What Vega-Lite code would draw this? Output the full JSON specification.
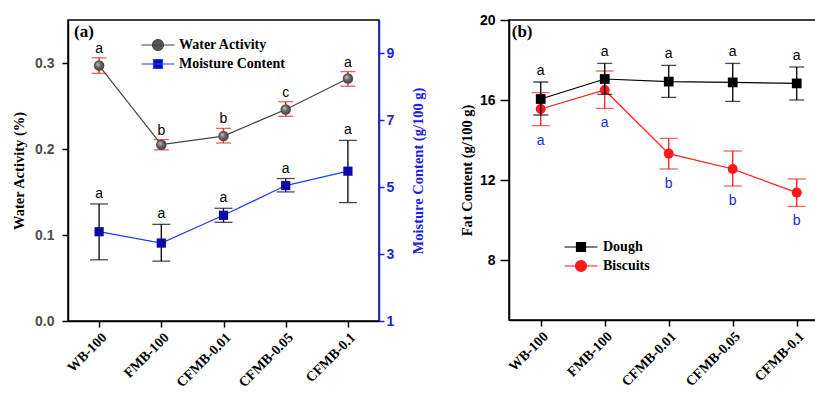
{
  "$schema": "https://vega.github.io/schema/vega-lite/v6.json",
  "padding": {"left": 10, "top": 12, "right": 0, "bottom": 0},
  "spacing": 31,
  "config": {
    "view": {"stroke": "black", "strokeWidth": 1.5},
    "axis": {"grid": false, "domainWidth": 1.5, "tickWidth": 1.5, "domainColor": "black", "tickColor": "black"}
  },
  "resolve": {"scale": {"color": "independent"}, "legend": {"color": "independent"}},
  "hconcat": [
    {
      "width": 311,
      "height": 301,
      "data": {"values": [
        {"cat": "WB-100", "wa": 0.297, "wa_lo": 0.288, "wa_hi": 0.306, "wa_sig": "a", "mc": 3.67, "mc_lo": 2.83, "mc_hi": 4.50, "mc_sig": "a"},
        {"cat": "FMB-100", "wa": 0.205, "wa_lo": 0.199, "wa_hi": 0.211, "wa_sig": "b", "mc": 3.33, "mc_lo": 2.79, "mc_hi": 3.89, "mc_sig": "a"},
        {"cat": "CFMB-0.01", "wa": 0.215, "wa_lo": 0.207, "wa_hi": 0.224, "wa_sig": "b", "mc": 4.16, "mc_lo": 3.95, "mc_hi": 4.37, "mc_sig": "a"},
        {"cat": "CFMB-0.05", "wa": 0.246, "wa_lo": 0.238, "wa_hi": 0.255, "wa_sig": "c", "mc": 5.05, "mc_lo": 4.86, "mc_hi": 5.26, "mc_sig": "a"},
        {"cat": "CFMB-0.1", "wa": 0.282, "wa_lo": 0.273, "wa_hi": 0.290, "wa_sig": "a", "mc": 5.48, "mc_lo": 4.54, "mc_hi": 6.40, "mc_sig": "a"}
      ]},
      "encoding": {
        "x": {"field": "cat", "type": "nominal", "sort": null,
          "scale": {"type": "point", "padding": 0.5},
          "axis": {"title": null, "labelAngle": -45, "labelFont": "Liberation Serif", "labelFontSize": 14, "labelFontWeight": "bold", "labelColor": "black", "tickSize": 6, "labelPadding": 3}}
      },
      "layer": [
        {
          "layer": [
            {
              "mark": {"type": "line", "strokeWidth": 1.2},
              "encoding": {
                "y": {"field": "wa", "type": "quantitative", "title": "Water Activity (%)",
                  "scale": {"domain": [0, 0.35], "nice": false, "zero": false},
                  "axis": {"values": [0, 0.1, 0.2, 0.3], "format": ".1f", "labelFont": "Liberation Sans", "labelFontSize": 14, "labelFontWeight": "bold", "labelColor": "#4d4d4d", "labelPadding": 8, "tickSize": 6, "titleFont": "Liberation Serif", "titleFontSize": 14.5, "titleFontWeight": "bold", "titleColor": "black", "titlePadding": 8}},
                "color": {"datum": "Water Activity",
                  "scale": {"domain": ["Water Activity", "Moisture Content"], "range": ["#444444", "#1f3fff"]},
                  "legend": {"orient": "none", "legendX": 83, "legendY": 18, "title": null, "padding": 0, "labelFont": "Liberation Serif", "labelFontSize": 14, "labelFontWeight": "bold", "labelColor": "black", "labelOffset": 14, "rowPadding": 4, "symbolSize": 100,
                    "encode": {"symbols": {"update": {
                      "shape": {"signal": "datum.value === 'Water Activity' ? 'M-3.3,0H3.3M1.1,0A1.1,1.1 0 1,1 -1.1,0A1.1,1.1 0 1,1 1.1,0Z' : 'M-3.3,0H3.3M-0.9,-0.9H0.9V0.9H-0.9Z'"},
                      "fill": {"signal": "datum.value === 'Water Activity' ? '#555555' : '#0a0aa8'"},
                      "stroke": {"signal": "datum.value === 'Water Activity' ? '#444444' : '#1f3fff'"},
                      "strokeWidth": {"value": 1.2},
                      "fillOpacity": {"value": 1},
                      "opacity": {"value": 1}
                    }}}}}
              }
            },
            {
              "mark": {"type": "errorbar", "color": "#ee1c1c", "thickness": 1.3, "ticks": {"size": 15}},
              "encoding": {
                "y": {"field": "wa_lo", "type": "quantitative", "title": "Water Activity (%)"},
                "y2": {"field": "wa_hi"}
              }
            },
            {
              "mark": {"type": "point", "filled": true, "size": 110, "opacity": 1,
                "fill": {"gradient": "radial", "x1": 0.35, "y1": 0.35, "r1": 0, "x2": 0.5, "y2": 0.5, "r2": 0.55,
                  "stops": [{"offset": 0, "color": "#cfcfcf"}, {"offset": 0.45, "color": "#6a6a6a"}, {"offset": 1, "color": "#3a3a3a"}]}},
              "encoding": {"y": {"field": "wa", "type": "quantitative", "title": "Water Activity (%)"}}
            },
            {
              "mark": {"type": "text", "font": "Liberation Sans", "fontSize": 14, "dy": -5, "baseline": "alphabetic", "align": "center", "color": "black"},
              "encoding": {
                "y": {"field": "wa_hi", "type": "quantitative", "title": "Water Activity (%)"},
                "text": {"field": "wa_sig"}
              }
            },
            {
              "data": {"values": [{"label": "(a)"}]},
              "mark": {"type": "text", "font": "Liberation Serif", "fontSize": 17, "fontWeight": "bold", "align": "left", "baseline": "alphabetic", "dx": -25, "dy": 17, "color": "black"},
              "encoding": {
                "x": {"datum": "WB-100"},
                "y": {"datum": 0.35, "type": "quantitative"},
                "text": {"field": "label"}
              }
            }
          ]
        },
        {
          "layer": [
            {
              "mark": {"type": "line", "strokeWidth": 1.2},
              "encoding": {
                "y": {"field": "mc", "type": "quantitative", "title": "Moisture Content (g/100 g)",
                  "scale": {"domain": [1, 10], "nice": false, "zero": false},
                  "axis": {"orient": "right", "values": [1, 3, 5, 7, 9], "labelFont": "Liberation Sans", "labelFontSize": 14, "labelFontWeight": "bold", "labelColor": "#1e1ee6", "domainColor": "#1e1ee6", "tickColor": "#1e1ee6", "labelPadding": 2, "tickSize": 5, "titleFont": "Liberation Serif", "titleFontSize": 14.5, "titleFontWeight": "bold", "titleColor": "#1e1ee6", "titleAngle": 270, "titlePadding": 32}},
                "color": {"datum": "Moisture Content"}
              }
            },
            {
              "mark": {"type": "errorbar", "color": "black", "thickness": 1.3, "ticks": {"size": 18}},
              "encoding": {
                "y": {"field": "mc_lo", "type": "quantitative", "title": "Moisture Content (g/100 g)"},
                "y2": {"field": "mc_hi"}
              }
            },
            {
              "mark": {"type": "point", "filled": true, "shape": "square", "size": 85, "opacity": 1, "color": "#0a0aa8"},
              "encoding": {"y": {"field": "mc", "type": "quantitative", "title": "Moisture Content (g/100 g)"}}
            },
            {
              "mark": {"type": "text", "font": "Liberation Sans", "fontSize": 14, "dy": -6, "baseline": "alphabetic", "align": "center", "color": "black"},
              "encoding": {
                "y": {"field": "mc_hi", "type": "quantitative", "title": "Moisture Content (g/100 g)"},
                "text": {"field": "mc_sig"}
              }
            }
          ]
        }
      ],
      "resolve": {"scale": {"y": "independent"}}
    },
    {
      "width": 308,
      "height": 300,
      "data": {"values": [
        {"cat": "WB-100", "dough": 16.05, "d_lo": 15.25, "d_hi": 16.90, "d_sig": "a", "bis": 15.55, "b_lo": 14.72, "b_hi": 16.37, "b_sig": "a"},
        {"cat": "FMB-100", "dough": 17.05, "d_lo": 16.28, "d_hi": 17.83, "d_sig": "a", "bis": 16.50, "b_lo": 15.58, "b_hi": 17.45, "b_sig": "a"},
        {"cat": "CFMB-0.01", "dough": 16.92, "d_lo": 16.13, "d_hi": 17.73, "d_sig": "a", "bis": 13.32, "b_lo": 12.55, "b_hi": 14.08, "b_sig": "b"},
        {"cat": "CFMB-0.05", "dough": 16.88, "d_lo": 15.93, "d_hi": 17.83, "d_sig": "a", "bis": 12.55, "b_lo": 11.70, "b_hi": 13.45, "b_sig": "b"},
        {"cat": "CFMB-0.1", "dough": 16.83, "d_lo": 16.00, "d_hi": 17.65, "d_sig": "a", "bis": 11.37, "b_lo": 10.68, "b_hi": 12.05, "b_sig": "b"}
      ]},
      "encoding": {
        "x": {"field": "cat", "type": "nominal", "sort": null,
          "scale": {"type": "point", "padding": 0.40625, "align": 0.61},
          "axis": {"title": null, "labelAngle": -45, "labelFont": "Liberation Serif", "labelFontSize": 14, "labelFontWeight": "bold", "labelColor": "black", "tickSize": 6, "labelPadding": 3}}
      },
      "layer": [
        {
          "mark": {"type": "line", "strokeWidth": 1.2},
          "encoding": {
            "y": {"field": "bis", "type": "quantitative", "title": "Fat Content (g/100 g)",
              "scale": {"domain": [5, 20], "nice": false, "zero": false},
              "axis": {"values": [8, 12, 16, 20], "labelFont": "Liberation Sans", "labelFontSize": 14, "labelFontWeight": "bold", "labelColor": "black", "labelPadding": 5, "tickSize": 9, "titleFont": "Liberation Serif", "titleFontSize": 14.5, "titleFontWeight": "bold", "titleColor": "black", "titlePadding": 5}},
            "color": {"datum": "Biscuits",
              "scale": {"domain": ["Dough", "Biscuits"], "range": ["black", "#ff1a1a"]},
              "legend": {"orient": "none", "legendX": 65, "legendY": 220, "title": null, "padding": 0, "labelFont": "Liberation Serif", "labelFontSize": 14, "labelFontWeight": "bold", "labelColor": "black", "labelOffset": 15, "rowPadding": 4, "symbolSize": 100,
                "encode": {"symbols": {"update": {
                  "shape": {"signal": "datum.value === 'Biscuits' ? 'M-3.3,0H3.3M1.1,0A1.1,1.1 0 1,1 -1.1,0A1.1,1.1 0 1,1 1.1,0Z' : 'M-3.3,0H3.3M-0.9,-0.9H0.9V0.9H-0.9Z'"},
                  "fill": {"signal": "datum.value === 'Biscuits' ? '#ff1a1a' : 'black'"},
                  "stroke": {"signal": "datum.value === 'Biscuits' ? '#ff1a1a' : 'black'"},
                  "strokeWidth": {"value": 1.2},
                  "fillOpacity": {"value": 1},
                  "opacity": {"value": 1}
                }}}}}
          }
        },
        {
          "mark": {"type": "errorbar", "color": "#ff1a1a", "thickness": 1.3, "ticks": {"size": 18}},
          "encoding": {
            "y": {"field": "b_lo", "type": "quantitative", "title": "Fat Content (g/100 g)"},
            "y2": {"field": "b_hi"}
          }
        },
        {
          "mark": {"type": "point", "filled": true, "shape": "circle", "size": 100, "opacity": 1, "color": "#ff1a1a"},
          "encoding": {"y": {"field": "bis", "type": "quantitative", "title": "Fat Content (g/100 g)"}}
        },
        {
          "mark": {"type": "line", "strokeWidth": 1.2},
          "encoding": {
            "y": {"field": "dough", "type": "quantitative", "title": "Fat Content (g/100 g)"},
            "color": {"datum": "Dough"}
          }
        },
        {
          "mark": {"type": "errorbar", "color": "black", "thickness": 1.3, "ticks": {"size": 15}},
          "encoding": {
            "y": {"field": "d_lo", "type": "quantitative", "title": "Fat Content (g/100 g)"},
            "y2": {"field": "d_hi"}
          }
        },
        {
          "mark": {"type": "point", "filled": true, "shape": "square", "size": 95, "opacity": 1, "color": "black"},
          "encoding": {"y": {"field": "dough", "type": "quantitative", "title": "Fat Content (g/100 g)"}}
        },
        {
          "mark": {"type": "text", "font": "Liberation Sans", "fontSize": 14, "dy": -7, "baseline": "alphabetic", "align": "center", "color": "black"},
          "encoding": {
            "y": {"field": "d_hi", "type": "quantitative", "title": "Fat Content (g/100 g)"},
            "text": {"field": "d_sig"}
          }
        },
        {
          "mark": {"type": "text", "font": "Liberation Sans", "fontSize": 14, "dy": 19, "baseline": "alphabetic", "align": "center", "color": "#2a2ad6"},
          "encoding": {
            "y": {"field": "b_lo", "type": "quantitative", "title": "Fat Content (g/100 g)"},
            "text": {"field": "b_sig"}
          }
        },
        {
          "data": {"values": [{"label": "(b)"}]},
          "mark": {"type": "text", "font": "Liberation Serif", "fontSize": 17, "fontWeight": "bold", "align": "left", "baseline": "alphabetic", "dx": -29, "dy": 17, "color": "black"},
          "encoding": {
            "x": {"datum": "WB-100"},
            "y": {"datum": 20, "type": "quantitative"},
            "text": {"field": "label"}
          }
        }
      ]
    }
  ]
}
